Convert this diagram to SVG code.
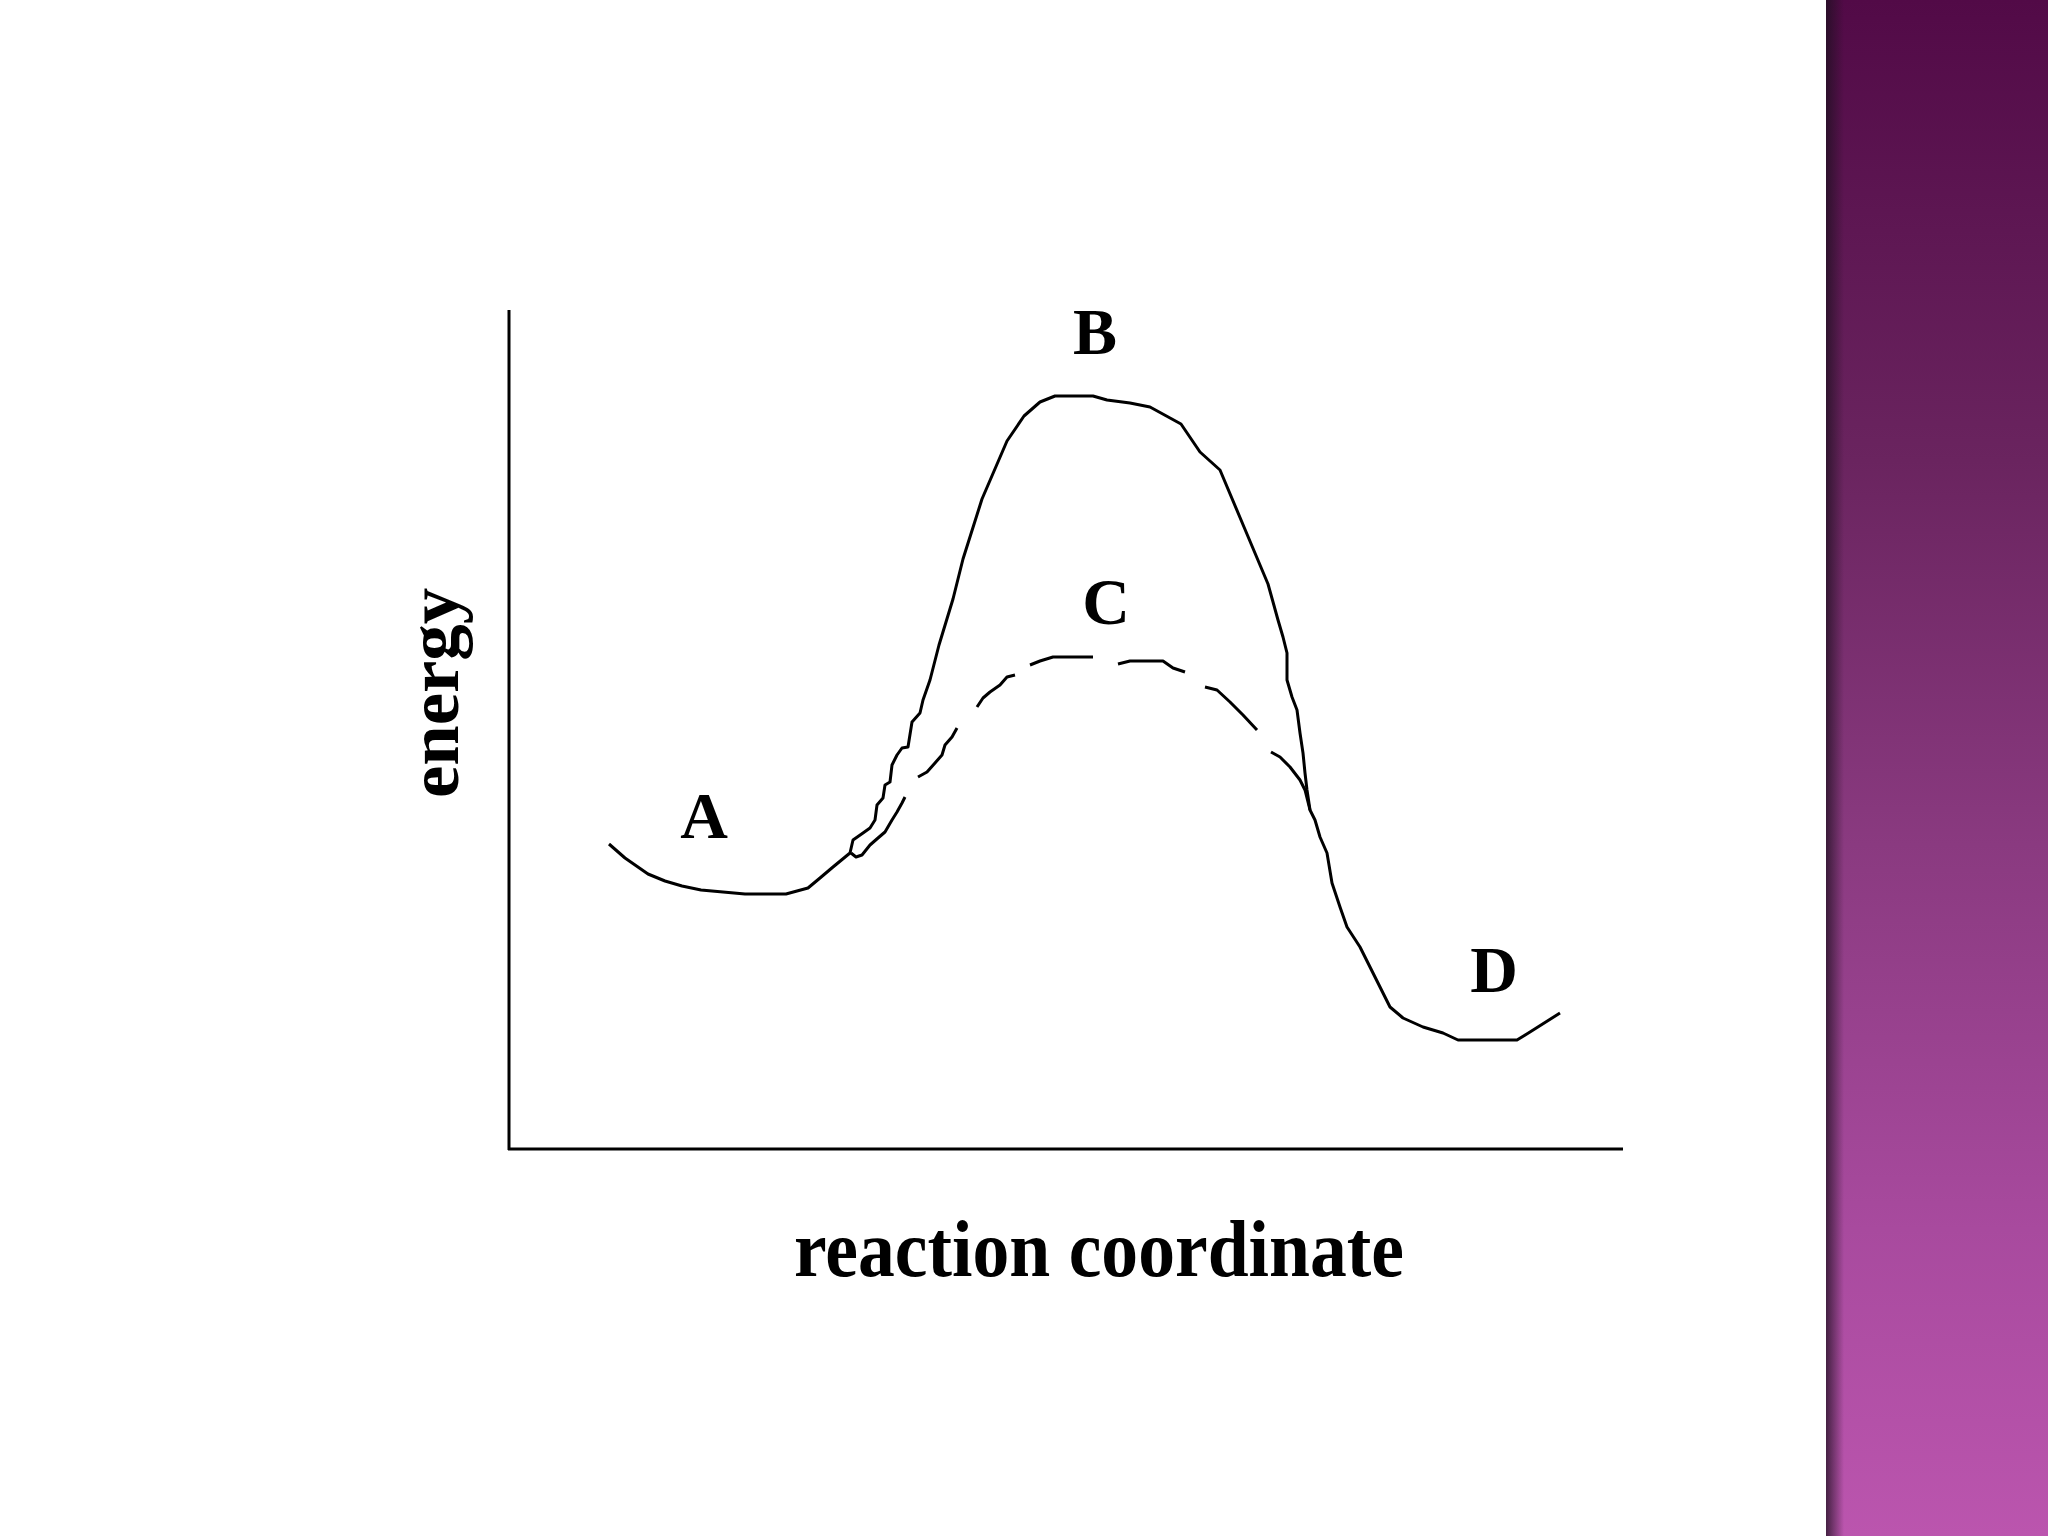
<svg xmlns="http://www.w3.org/2000/svg" width="2048" height="1536" viewBox="0 0 2048 1536">
  <defs>
    <linearGradient id="band" x1="0" y1="0" x2="0" y2="1">
      <stop offset="0" stop-color="#520a47"/>
      <stop offset="0.3" stop-color="#6a245f"/>
      <stop offset="0.55" stop-color="#8a3a80"/>
      <stop offset="0.8" stop-color="#a84a9e"/>
      <stop offset="1" stop-color="#bb55ae"/>
    </linearGradient>
    <linearGradient id="shade" x1="0" y1="0" x2="1" y2="0">
      <stop offset="0" stop-color="#1e1020" stop-opacity="0.75"/>
      <stop offset="1" stop-color="#1e1020" stop-opacity="0"/>
    </linearGradient>
    <style>
      .curve { fill: none; stroke: #000; stroke-width: 3; stroke-linejoin: round; stroke-linecap: butt; }
      .axis { fill: none; stroke: #000; stroke-width: 3; }
      .lbl { font-family: "Liberation Serif", "Times New Roman", serif; font-weight: bold; fill: #000; }
    </style>
  </defs>
  <rect x="0" y="0" width="2048" height="1536" fill="#ffffff"/>
  <g id="side-band">
    <rect x="1826" y="0" width="222" height="1536" fill="url(#band)"/>
    <rect x="1826" y="0" width="18" height="1536" fill="url(#shade)"/>
  </g>
  <g id="axes">
    <line class="axis" x1="509" y1="310" x2="509" y2="1150"/>
    <line class="axis" x1="508" y1="1149" x2="1623" y2="1149"/>
  </g>
  <g id="curves">
    <polyline id="curve-B" class="curve" points="609,844 625,858 648,874 665,881 682,886 701,890 745,894 786,894 808,888 820,878 833,867 850,853 853,840 863,833 870,828 875,820 877,805 883,798 885,785 890,782 892,765 897,755 902,748 908,747 912,722 920,713 923,700 930,680 939,645 953,599 963,559 982,499 1007,441 1024,416 1040,402 1055,396 1093,396 1107,400 1130,403 1150,407 1181,424 1200,452 1220,470 1244,527 1268,584 1278,620 1283,637 1287,653 1287,680 1292,697 1297,710 1300,733 1303,753 1305,773 1307,790 1310,810 1315,820 1320,837 1327,853 1332,883 1340,907 1347,927 1360,947 1370,967 1383,993 1390,1007 1403,1018 1423,1027 1443,1033 1458,1040 1517,1040 1530,1032 1560,1013"/>
    <g id="curve-C">
      <polyline class="curve" points="851,853 856,857 862,855 870,845 878,838 885,832 892,820 897,812 902,803 905,797"/>
      <polyline class="curve" points="918,777 927,772 935,763 942,755 945,745 952,737 957,728"/>
      <polyline class="curve" points="977,707 983,698 990,692 1000,685 1007,677 1015,675"/>
      <polyline class="curve" points="1030,665 1040,661 1053,657 1093,657"/>
      <polyline class="curve" points="1118,664 1130,661 1163,661 1173,668 1185,672"/>
      <polyline class="curve" points="1205,687 1217,690 1230,702 1243,715 1257,730"/>
      <polyline class="curve" points="1271,752 1280,757 1290,767 1300,780 1305,790 1310,810"/>
    </g>
  </g>
  <g id="labels">
    <text class="lbl" x="1095" y="354" font-size="66" text-anchor="middle">B</text>
    <text class="lbl" x="1106" y="624" font-size="66" text-anchor="middle">C</text>
    <text class="lbl" x="704" y="838" font-size="66" text-anchor="middle">A</text>
    <text class="lbl" x="1494" y="992" font-size="66" text-anchor="middle">D</text>
    <text class="lbl" x="794" y="1276" font-size="80" textLength="610" lengthAdjust="spacingAndGlyphs">reaction coordinate</text>
    <text class="lbl" transform="translate(458,693) rotate(-90)" x="0" y="0" font-size="72" text-anchor="middle" textLength="210" lengthAdjust="spacingAndGlyphs">energy</text>
  </g>
</svg>
